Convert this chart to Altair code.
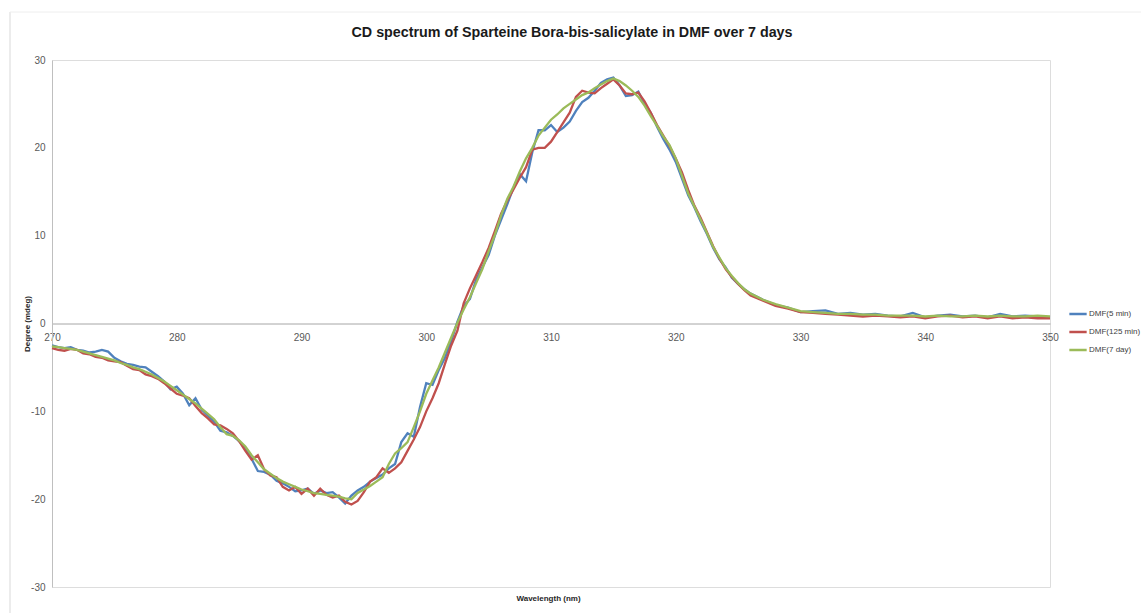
import altair as alt
import pandas as pd

# Wavelength grid: 0.5 nm steps 270-326, then 1 nm steps 327-350
wl_fine = [270 + 0.5 * i for i in range(113)]
wl_coarse = list(range(327, 351))
wavelength = wl_fine + wl_coarse

series_names = ["DMF(5 min)", "DMF(125 min)", "DMF(7 day)"]
series_colors = ["#4F81BD", "#C0504D", "#9BBB59"]
chart_title = "CD spectrum of Sparteine Bora-bis-salicylate in DMF over 7 days"

dmf_5min = [
    -2.5, -2.7, -2.8, -2.7, -3.0, -3.1, -3.3, -3.2, -3.0, -3.2,
    -3.9, -4.3, -4.6, -4.7, -4.9, -5.0, -5.5, -6.0, -6.6, -7.5,
    -7.2, -8.0, -9.3, -8.5, -9.8, -10.5, -11.2, -12.2, -12.4, -12.8,
    -13.4, -14.2, -15.4, -16.8, -16.9, -17.2, -17.9, -18.2, -18.6, -19.1,
    -19.0, -18.8, -19.4, -19.0, -19.3, -19.2, -19.8, -20.5, -19.6, -19.0,
    -18.6, -18.0, -17.6, -17.2, -16.5, -16.0, -13.5, -12.5, -12.9, -9.5,
    -6.8, -7.0, -5.3, -3.9, -2.0, 0.2, 2.0, 2.8, 5.0, 6.4,
    7.8, 10.0, 11.8, 13.6, 15.5, 17.0, 16.2, 19.5, 22.0, 22.0,
    22.6, 21.8, 22.3, 23.0, 24.2, 25.2, 25.7, 26.5, 27.4, 27.8,
    28.0, 27.1, 25.9, 26.0, 26.4, 25.0, 24.0, 22.4, 21.0, 19.8,
    18.4, 16.5, 14.6, 13.2, 11.6, 10.2, 8.6, 7.3, 6.4, 5.2,
    4.5, 3.9, 3.4,
    2.7, 2.1, 1.8, 1.3, 1.4, 1.5, 1.1, 1.2, 1.0, 1.1, 0.9, 0.8,
    1.2, 0.7, 0.9, 1.0, 0.8, 0.9, 0.7, 1.1, 0.8, 0.9, 0.8, 0.7,
]

dmf_125min = [
    -2.8, -3.0, -3.1, -2.9, -3.0, -3.4, -3.5, -3.8, -3.9, -4.2,
    -4.3, -4.4, -4.8, -5.2, -5.3, -5.8, -6.0, -6.3, -6.8, -7.4,
    -8.0, -8.2, -8.5, -9.4, -10.2, -10.8, -11.5, -11.6, -12.0, -12.5,
    -13.4, -14.5, -15.5, -15.0, -16.6, -17.3, -17.5, -18.6, -19.0, -18.6,
    -19.4, -18.8, -19.6, -18.8, -19.5, -19.8, -19.6, -20.3, -20.6, -20.2,
    -19.2, -18.0, -17.5, -16.5, -17.0, -16.5, -15.8, -14.5, -13.2, -11.8,
    -10.0, -8.5, -6.8, -4.6, -2.5, -0.8, 2.3, 4.0, 5.5, 7.0,
    8.6, 10.5, 12.5, 14.0, 15.3, 16.6, 17.8, 19.8, 20.0, 20.0,
    20.7, 21.8, 22.9, 24.0, 25.8, 26.5, 26.3, 26.2, 26.8, 27.3,
    27.8, 27.1, 26.2, 26.1, 26.3, 25.3, 24.0, 22.6, 21.4, 20.2,
    18.8, 17.2, 15.2, 13.4, 12.0, 10.4, 8.8, 7.4, 6.2, 5.3,
    4.5, 3.8, 3.2,
    2.6, 2.0, 1.7, 1.3, 1.2, 1.1, 1.0, 0.9, 0.8, 0.9, 0.8, 0.7,
    0.8, 0.6, 0.8, 0.9, 0.7, 0.8, 0.6, 0.8, 0.6, 0.7, 0.6, 0.6,
]

dmf_7day = [
    -2.6, -2.7, -2.8, -2.9, -3.0, -3.2, -3.4, -3.6, -3.8, -4.0,
    -4.2, -4.5, -4.7, -5.0, -5.2, -5.5, -5.8, -6.2, -6.6, -7.1,
    -7.6, -8.1, -8.6, -9.1, -9.7, -10.3, -10.9, -11.8, -12.6, -12.8,
    -13.3, -14.0, -15.0, -15.8, -16.6, -17.1, -17.6, -18.0, -18.3, -18.6,
    -18.9, -19.1, -19.3, -19.4, -19.5, -19.6, -19.7, -19.9, -20.0, -19.3,
    -18.9, -18.5, -18.0, -17.5, -16.0, -14.8, -14.2, -13.5, -11.8, -10.0,
    -8.0, -6.5, -5.0, -3.3, -1.6, 0.1, 1.6, 3.0, 4.6, 6.2,
    8.2, 10.1, 12.3, 14.2, 15.6, 17.3, 18.8, 20.0, 21.4, 22.3,
    23.2, 23.8, 24.5, 25.0, 25.5, 26.0, 26.3, 26.8, 27.2, 27.6,
    27.9, 27.6, 27.1, 26.5, 25.8, 24.8, 23.6, 22.5, 21.3, 20.3,
    18.8, 16.8, 14.8, 13.3, 11.8, 10.3, 8.7, 7.5, 6.3, 5.4,
    4.6, 3.9, 3.4,
    2.7, 2.2, 1.8, 1.4, 1.3, 1.2, 1.1, 1.1, 1.0, 1.0, 0.9, 0.9,
    0.9, 0.8, 0.9, 0.8, 0.8, 0.9, 0.8, 0.9, 0.8, 0.8, 0.9, 0.8,
]

x_ticks = [270, 280, 290, 300, 310, 320, 330, 340, 350]
y_ticks = [-30, -20, -10, 0, 10, 20, 30]

rows = []
for name, vals in zip(series_names, [dmf_5min, dmf_125min, dmf_7day]):
    assert len(vals) == len(wavelength), (name, len(vals))
    for w, v in zip(wavelength, vals):
        rows.append({"Wavelength": w, "Degree": v, "Series": name})
df = pd.DataFrame(rows)

W, H = 998, 527
FONT = "Liberation Sans"

lines = alt.Chart(df).mark_line(strokeWidth=2.3).encode(
    x=alt.X(
        "Wavelength:Q",
        scale=alt.Scale(domain=[270, 350], nice=False, zero=False),
        axis=alt.Axis(
            values=x_ticks, offset=-H / 2, grid=False, ticks=False,
            labelFontSize=10, labelColor="#595959", labelFont=FONT,
            labelPadding=9, labelFlush=False,
            domainColor="#a6a6a6", domainWidth=1,
            title="Wavelength (nm)", titleFont=FONT, titleFontSize=8,
            titleFontWeight="bold", titleColor="#262626",
            titleY=H / 2 + 11, titleX=W / 2 - 3, titleBaseline="middle",
        ),
    ),
    y=alt.Y(
        "Degree:Q",
        scale=alt.Scale(domain=[-30, 30], nice=False),
        axis=alt.Axis(
            values=y_ticks, grid=False, ticks=False,
            labelExpr="'' + datum.value",
            labelFontSize=10, labelColor="#595959", labelFont=FONT,
            labelPadding=7,
            domainColor="#bfbfbf", domainWidth=1,
            title="Degree (mdeg)", titleFont=FONT, titleFontSize=8,
            titleFontWeight="bold", titleColor="#262626",
            titleX=-25, titleY=H / 2, titleBaseline="middle",
        ),
    ),
    color=alt.Color(
        "Series:N",
        scale=alt.Scale(domain=series_names, range=series_colors),
        legend=alt.Legend(
            title=None, orient="none", legendX=1016, legendY=244,
            symbolType="stroke", symbolStrokeWidth=2.5, symbolSize=300,
            labelFontSize=8, labelColor="#404040", labelFont=FONT,
            rowPadding=3, labelOffset=1,
        ),
    ),
)

border = alt.Chart(pd.DataFrame({"k": [0]})).mark_rule(color="#d9d9d9", strokeWidth=1).encode(
    x=alt.value(-42), y=alt.value(-48), y2=alt.value(H + 26)
)
border_top = alt.Chart(pd.DataFrame({"k": [0]})).mark_rule(color="#eeeeee", strokeWidth=1).encode(
    x=alt.value(-42), x2=alt.value(W + 91), y=alt.value(-48)
)
title_text = alt.Chart(pd.DataFrame({"t": [chart_title]})).mark_text(
    font=FONT, fontSize=14.3, fontWeight="bold", color="#1a1a1a",
    align="center", baseline="middle",
).encode(text="t:N", x=alt.value(520), y=alt.value(-27))

chart = alt.layer(border, border_top, lines, title_text).properties(
    width=W,
    height=H,
    autosize=alt.AutoSizeParams(type="none"),
    padding={"left": 52, "top": 60, "right": 91, "bottom": 26},
).configure_view(stroke=None).configure(background="white")

chart.save("out.html", embed_options={"renderer": "svg", "actions": False})
